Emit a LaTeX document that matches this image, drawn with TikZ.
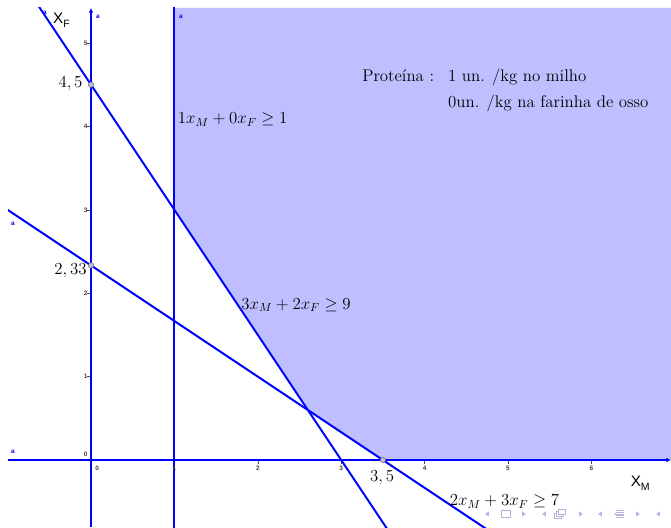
\documentclass[tikz,border=0pt]{standalone}
\usepackage{fontspec}
\usepackage{amsmath,amssymb}
\usetikzlibrary{arrows.meta,positioning}
\newfontfamily\ggbfont{Liberation Sans}
\definecolor{LineBlue}  {HTML}{0000FF}
\definecolor{RegionBlue}{HTML}{BFBFFF}
\definecolor{NavGray}   {HTML}{B4B4DE}
\definecolor{PointGray} {HTML}{7070A8}
\tikzset{
  rline/.style={draw=LineBlue,line width=1.7pt},
  axline/.style={draw=LineBlue,line width=1.7pt,-{Latex[length=4pt,width=4pt]}},
  eqlbl/.style={font=\Large,inner sep=0pt},
  txtlbl/.style={font=\Large,inner sep=0pt},
  ticklbl/.style={font=\ggbfont\fontsize{5.5}{5.5}\selectfont\bfseries,inner sep=0pt,text=black!75},
  namelbl/.style={font=\ggbfont\fontsize{5.5}{5.5}\selectfont\bfseries,inner sep=0pt,text=LineBlue},
  axname/.style={font=\ggbfont\fontsize{13}{13}\selectfont,inner sep=0pt},
  ptmark/.style={circle,draw=black!55,fill=PointGray!45,line width=0.5pt,
                 minimum size=4.5pt,inner sep=0pt},
  tickmark/.style={draw=black!70,line width=0.5pt},
}

\begin{document}
\begin{tikzpicture}[x=2.502cm,y=2.502cm]
  \useasboundingbox (-1.0911,-0.8034) rectangle (6.9544,5.5156);

  % feasible region
  \fill[RegionBlue] (1,5.42) -- (1,3) -- (2.6,0.6) -- (3.5,0)
    -- (6.9544,0) -- (6.9544,5.42) -- cycle;

  % ticks
  \foreach \k in {1,...,6}
    \draw[tickmark] (\k,0) -- (\k,-0.045);
  \foreach \k in {1,...,5}
    \draw[tickmark] (0,\k) -- (-0.045,\k);

  % restriction lines
  \begin{scope}
    \clip (-0.995,-0.8034) rectangle (6.9544,5.42);
    \draw[rline] (1,-1) -- (1,6);
    \draw[rline] (-1,6) -- (4,-1.5);
    \draw[rline] (-1.2,3.1333) -- (5.5,-1.3333);
  \end{scope}

  % axes
  \draw[axline] (-0.995,0) -- (6.9544,0);
  \draw[axline] (0,-0.8034) -- (0,5.42);

  % points
  \node[ptmark] (pA) at (0,4.5) {};
  \node[ptmark] (pB) at (0,2.3333) {};
  \node[ptmark] (pC) at (3.5,0) {};

  % tick labels
  \foreach \k in {1,...,6}
    \node[ticklbl,anchor=north] (xt\k) at (\k,-0.07) {\k};
  \node[ticklbl,anchor=north west] (xt0) at (0.05,-0.07) {0};
  \foreach \k in {1,...,5}
    \node[ticklbl,anchor=east] (yt\k) at (-0.04,\k) {\k};
  \node[ticklbl,anchor=east] (yt0) at (-0.04,0.07) {0};

  % line names
  \node[namelbl] (nA) at (-0.552,5.36) {a};
  \node[namelbl] (nB) at (0.084,5.31) {a};
  \node[namelbl] (nC) at (1.079,5.31) {a};
  \node[namelbl] (nD) at (-0.935,2.83) {a};
  \node[namelbl] (nE) at (-0.935,0.096) {a};

  % axis names
  \node[axname,anchor=west] (XF) at (-0.456,5.275) {X\raisebox{-0.3em}{\fontsize{9}{9}\selectfont F}};
  \node[axname,anchor=west] (XM) at (6.47,-0.28) {X\raisebox{-0.3em}{\fontsize{9}{9}\selectfont M}};

  % point labels
  \node[eqlbl,anchor=east] (lA) at (-0.10,4.51) {$4,5$};
  \node[eqlbl,anchor=east] (lB) at (-0.05,2.27) {$2,33$};
  \node[eqlbl] (lC) at (3.49,-0.216) {$3,5$};

  % restrictions
  \node[eqlbl,anchor=west] (eqA) at (1.04,4.08) {$1x_M+0x_F\geq 1$};
  \node[eqlbl,anchor=west] (eqB) at (1.80,1.86) {$3x_M+2x_F\geq 9$};
  \node[eqlbl,anchor=west] (eqC) at (4.30,-0.50) {$2x_M+3x_F\geq 7$};

  % protein note
  \node[txtlbl,anchor=base west] (prot) at (3.25,4.544) {Proteína :};
  \node[txtlbl,anchor=base west] (milho) at (4.28,4.544) {1 un. /kg no milho};
  \node[txtlbl,anchor=base west] (osso) at (4.28,4.23) {0un. /kg na farinha de osso};

  % navigation symbols
  \foreach \nx in {4.748,5.432,6.103,6.799}
    \fill[NavGray] (\nx,-0.647) ++(-1.6pt,0) -- ++(3.2pt,2.2pt) -- ++(0,-4.4pt) -- cycle;
  \foreach \nx in {5.192,5.875,6.559}
    \fill[NavGray] (\nx,-0.647) ++(1.6pt,0) -- ++(-3.2pt,2.2pt) -- ++(0,-4.4pt) -- cycle;
  \draw[NavGray,line width=0.8pt] (4.976,-0.647) ++(-4pt,-2.8pt) rectangle ++(8pt,5.6pt);
  \foreach \d in {0,1.6,3.2}
    \draw[NavGray,fill=white,line width=0.7pt] (5.624,-0.647) ++(-4.5pt+\d pt,-4pt+\d pt) rectangle ++(5.5pt,4.5pt);
  \foreach \d in {-3.2,-1.6,0,1.6,3.2}
    \draw[NavGray,line width=0.7pt] (6.343,-0.647) ++(-3.5pt,\d pt) -- ++(7pt,0);
  \fill[NavGray] (6.343,-0.647) ++(-4.5pt,1pt) -- ++(2pt,-1pt) -- ++(-2pt,-1pt) -- cycle;
\end{tikzpicture}
\end{document}
